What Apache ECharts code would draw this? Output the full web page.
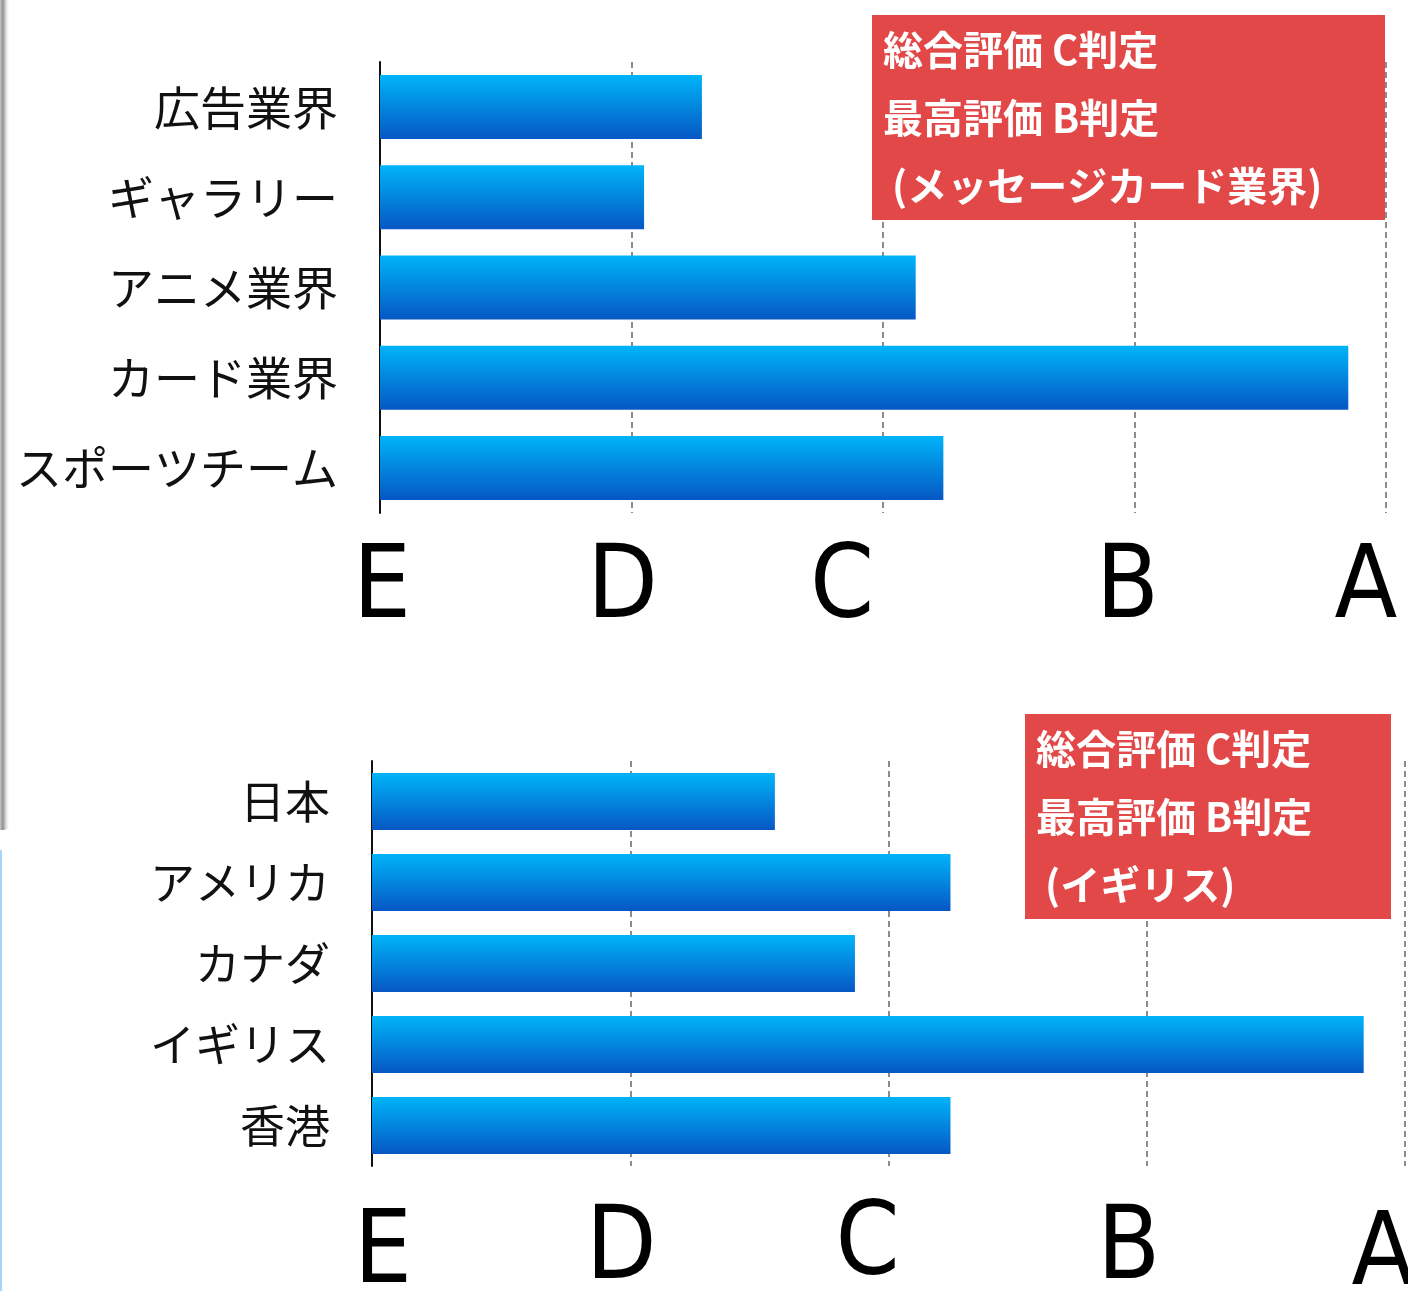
<!DOCTYPE html>
<html>
<head>
<meta charset="utf-8">
<script src="https://cdn.jsdelivr.net/npm/echarts@6/dist/echarts.min.js"></script>
<style>
html,body{margin:0;padding:0;background:#fff;}
#c{width:1408px;height:1291px;}
</style>
</head>
<body>
<div id="c"></div>
<script>
// ---- data ----
var gradeLabels = ['E', 'D', 'C', 'B', 'A'];
var topCategories = ['広告業界', 'ギャラリー', 'アニメ業界', 'カード業界', 'スポーツチーム'];
var topValues = [1.28, 1.05, 2.13, 3.85, 2.24];
var bottomCategories = ['日本', 'アメリカ', 'カナダ', 'イギリス', '香港'];
var bottomValues = [1.56, 2.24, 1.87, 3.84, 2.24];
var topNote = '総合評価 C判定\n最高評価 B判定\n (メッセージカード業界)';
var bottomNote = '総合評価 C判定\n最高評価 B判定\n (イギリス)';

var chart = echarts.init(document.getElementById('c'), null, {renderer: 'canvas'});

var barColor = new echarts.graphic.LinearGradient(0, 0, 0, 1, [
  {offset: 0, color: '#00b4f8'},
  {offset: 1, color: '#0657c4'}
]);

var letterFont = "'Liberation Sans Narrow', 'DejaVu Sans Condensed', 'Liberation Sans', sans-serif";
var cjkFont = "'Noto Sans CJK JP', sans-serif";

// per-letter offsets (dx, dy) to mimic the reference placement
function richFor(offsets) {
  var rich = {};
  gradeLabels.forEach(function (g, i) {
    var dx = offsets[i][0], dy = offsets[i][1];
    rich[g] = {
      fontSize: 102,
      lineHeight: 102,
      fontFamily: letterFont,
      color: '#000',
      padding: [Math.max(dy, 0), dx < 0 ? -2 * dx : 0, 0, dx > 0 ? 2 * dx : 0]
    };
  });
  return rich;
}
function gradeFormatter(v) {
  var g = gradeLabels[Math.round(v)];
  return g ? '{' + g + '|' + g + '}' : '';
}

function xAxisFor(gridIndex, offsets, margin) {
  return {
    type: 'value', gridIndex: gridIndex, min: 0, max: 4, interval: 1,
    axisLine: {show: false}, axisTick: {show: false},
    splitLine: {show: true, lineStyle: {color: '#8c8c8c', width: 2, type: [6, 4]}},
    axisLabel: {show: true, margin: margin, formatter: gradeFormatter, rich: richFor(offsets), showMinLabel: true, showMaxLabel: true, hideOverlap: false}
  };
}
function yAxisFor(gridIndex, cats, fontSize) {
  return {
    type: 'category', gridIndex: gridIndex, data: cats, inverse: true,
    axisLine: {show: true, lineStyle: {color: '#111', width: 2}},
    axisTick: {show: false},
    splitLine: {show: false},
    axisLabel: {margin: 42, fontSize: fontSize, fontFamily: cjkFont, color: '#111'}
  };
}

function noteBox(left, top, w, h, text) {
  return {
    type: 'group', left: left, top: top, z: 100,
    children: [
      {type: 'rect', z: 100, shape: {x: 0, y: 0, width: w, height: h}, style: {fill: '#e34848'}},
      {type: 'text', z: 101, x: 11, y: 1, style: {
        text: text, fill: '#fff', fontSize: 40, fontWeight: 'bold', fontFamily: cjkFont,
        lineHeight: 68
      }}
    ]
  };
}

var option = {
  animation: false,
  backgroundColor: '#fff',
  grid: [
    {left: 380, right: 22, top: 62, height: 451, containLabel: false, outerBoundsMode: 'none'},
    {left: 372, right: 3, top: 761, height: 405, containLabel: false, outerBoundsMode: 'none'}
  ],
  xAxis: [
    xAxisFor(0, [[2, 0], [-9, 0], [-41, 0], [-7, 0], [-20, 0]], 26),
    xAxisFor(1, [[11, 16], [-9, 8], [-21, 0], [-18, 8], [-22, 20]], 30)
  ],
  yAxis: [
    yAxisFor(0, topCategories, 46),
    yAxisFor(1, bottomCategories, 45)
  ],
  series: [
    {type: 'bar', xAxisIndex: 0, yAxisIndex: 0, data: topValues, barWidth: 64,
     itemStyle: {color: barColor}, silent: true},
    {type: 'bar', xAxisIndex: 1, yAxisIndex: 1, data: bottomValues, barWidth: 57,
     itemStyle: {color: barColor}, silent: true}
  ],
  graphic: [
    noteBox(872, 15, 513, 205, topNote),
    noteBox(1025, 714, 366, 205, bottomNote),
    {type: 'rect', left: 0, top: 0, shape: {x: 0, y: 0, width: 10, height: 830, r: [0, 0, 6, 0]}, z: 50,
     style: {fill: new echarts.graphic.LinearGradient(0, 0, 1, 0, [
       {offset: 0, color: '#c4c4c4'}, {offset: 0.3, color: '#8e8e8e'}, {offset: 1, color: 'rgba(255,255,255,0)'}
     ])}},
    {type: 'rect', left: 0, top: 850, shape: {x: 0, y: 0, width: 2, height: 441}, z: 50,
     style: {fill: '#a8d4f8'}}
  ]
};
chart.setOption(option);
</script>
</body>
</html>
